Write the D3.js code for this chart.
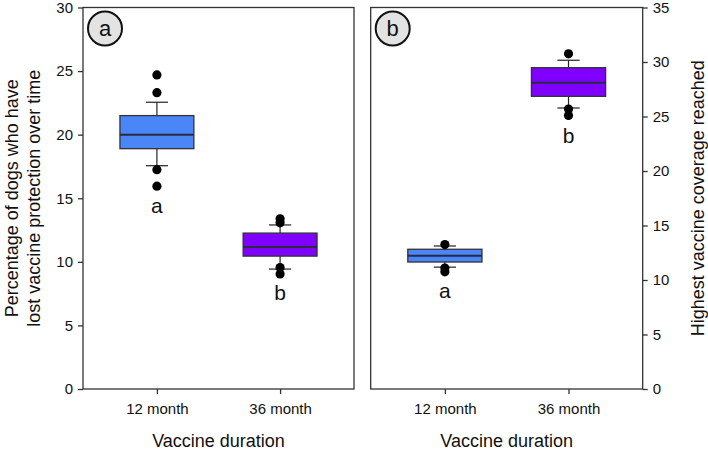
<!DOCTYPE html>
<html><head><meta charset="utf-8">
<script src="https://cdn.jsdelivr.net/npm/d3@7"></script>
<style>body{margin:0;background:#fff}svg{display:block;font-family:"Liberation Sans",Arial,sans-serif}</style>
</head><body><svg id="c" width="708" height="451"></svg>
<script>
const categories = ["12 month", "36 month"];
const colors = ["#4a86f7", "#7f00ff"];
// Panel a: percentage of dogs who have lost vaccine protection
const statsA = [
  {q1: 18.9, median: 20.0, q3: 21.5, lo: 17.56, hi: 22.55},
  {q1: 10.45, median: 11.17, q3: 12.26, lo: 9.43, hi: 12.9}
];
const outliersA = [[24.7, 23.3, 17.25, 15.95], [13.38, 13.08, 9.55, 9.05]];
const lettersA = ["a", "b"];
const letterValA = [13.85, 7.0];
const ticksA = [0, 5, 10, 15, 20, 25, 30];
// Panel b: highest vaccine coverage reached
const statsB = [
  {q1: 11.65, median: 12.23, q3: 12.82, lo: 11.18, hi: 13.12},
  {q1: 26.85, median: 28.1, q3: 29.48, lo: 25.78, hi: 30.16}
];
const outliersB = [[13.25, 11.1, 10.75], [30.75, 25.68, 25.1]];
const lettersB = ["a", "b"];
const letterValB = [8.35, 22.55];
const ticksB = [0, 5, 10, 15, 20, 25, 30, 35];

const svg = d3.select("#c");
const plotTop = 7.5, plotBottom = 389;

function panel(x0, x1, stats, outs, letters, letterVals, ticks, ymax, side, tag, ytitle) {
  const g = svg.append("g");
  const x = d3.scalePoint().domain(categories).range([x0, x1]).padding(0.6);
  const y = d3.scaleLinear().domain([0, ymax]).range([plotBottom, plotTop]);
  const bw = x.step() * 0.6;
  g.append("rect").attr("x", x0).attr("y", plotTop).attr("width", x1 - x0).attr("height", plotBottom - plotTop)
    .attr("fill", "none").attr("stroke", "#333").attr("stroke-width", 1.3);
  const yAxis = (side === "left" ? d3.axisLeft(y) : d3.axisRight(y)).tickValues(ticks).tickSize(5).tickPadding(5);
  const ya = g.append("g").attr("transform", `translate(${side === "left" ? x0 : x1},0)`).call(yAxis);
  ya.select(".domain").remove();
  ya.selectAll("line").attr("stroke", "#333").attr("stroke-width", 1.3);
  ya.selectAll("text").attr("font-size", 15).attr("fill", "#111").attr("font-family", "Liberation Sans, Arial, sans-serif");
  const xa = g.append("g").attr("transform", `translate(0,${plotBottom})`).call(d3.axisBottom(x).tickSize(5).tickPadding(9));
  xa.select(".domain").remove();
  xa.selectAll("line").attr("stroke", "#333").attr("stroke-width", 1.3);
  xa.selectAll("text").attr("font-size", 15).attr("fill", "#111").attr("font-family", "Liberation Sans, Arial, sans-serif");
  stats.forEach((s, i) => {
    const cx = x(categories[i]);
    const capW = bw * 0.3;
    g.append("line").attr("x1", cx).attr("x2", cx).attr("y1", y(s.q3)).attr("y2", y(s.hi)).attr("stroke", "#222").attr("stroke-width", 1.2);
    g.append("line").attr("x1", cx).attr("x2", cx).attr("y1", y(s.q1)).attr("y2", y(s.lo)).attr("stroke", "#222").attr("stroke-width", 1.2);
    g.append("line").attr("x1", cx - capW / 2).attr("x2", cx + capW / 2).attr("y1", y(s.hi)).attr("y2", y(s.hi)).attr("stroke", "#222").attr("stroke-width", 1.2);
    g.append("line").attr("x1", cx - capW / 2).attr("x2", cx + capW / 2).attr("y1", y(s.lo)).attr("y2", y(s.lo)).attr("stroke", "#222").attr("stroke-width", 1.2);
    g.append("rect").attr("x", cx - bw / 2).attr("y", y(s.q3)).attr("width", bw).attr("height", y(s.q1) - y(s.q3))
      .attr("fill", colors[i]).attr("stroke", "#333").attr("stroke-width", 1.3);
    g.append("line").attr("x1", cx - bw / 2).attr("x2", cx + bw / 2).attr("y1", y(s.median)).attr("y2", y(s.median))
      .attr("stroke", "#2a2a40").attr("stroke-width", 2);
    outs[i].forEach(v => {
      g.append("circle").attr("cx", cx).attr("cy", y(v)).attr("r", 4.6).attr("fill", "#000");
    });
    g.append("text").attr("x", cx).attr("y", y(letterVals[i])).attr("text-anchor", "middle")
      .attr("font-size", 21).attr("fill", "#111").text(letters[i]);
  });
  const tx = x0 + 22, ty = 28.5;
  g.append("circle").attr("cx", tx).attr("cy", ty).attr("r", 17).attr("fill", "#e3e3e3").attr("stroke", "#111").attr("stroke-width", 2);
  g.append("text").attr("x", tx).attr("y", ty + 7.5).attr("text-anchor", "middle").attr("font-size", 22).attr("fill", "#111").text(tag);
  g.append("text").attr("x", (x0 + x1) / 2).attr("y", 446.5).attr("text-anchor", "middle").attr("font-size", 18).attr("fill", "#111").text("Vaccine duration");
  const ymid = (plotTop + plotBottom) / 2;
  if (side === "left") {
    const t = g.append("text").attr("transform", `translate(${18},${ymid}) rotate(-90)`).attr("text-anchor", "middle").attr("font-size", 18).attr("fill", "#111");
    t.append("tspan").attr("x", 0).attr("dy", 0).text(ytitle[0]);
    t.append("tspan").attr("x", 0).attr("dy", 21.5).text(ytitle[1]);
  } else {
    g.append("text").attr("transform", `translate(${704},${ymid}) rotate(-90)`).attr("text-anchor", "middle").attr("font-size", 18).attr("fill", "#111").text(ytitle[0]);
  }
}

panel(83, 354, statsA, outliersA, lettersA, letterValA, ticksA, 30, "left", "a", ["Percentage of dogs who have", "lost vaccine protection over time"]);
panel(370.7, 642.7, statsB, outliersB, lettersB, letterValB, ticksB, 35, "right", "b", ["Highest vaccine coverage reached"]);
</script></body></html>
